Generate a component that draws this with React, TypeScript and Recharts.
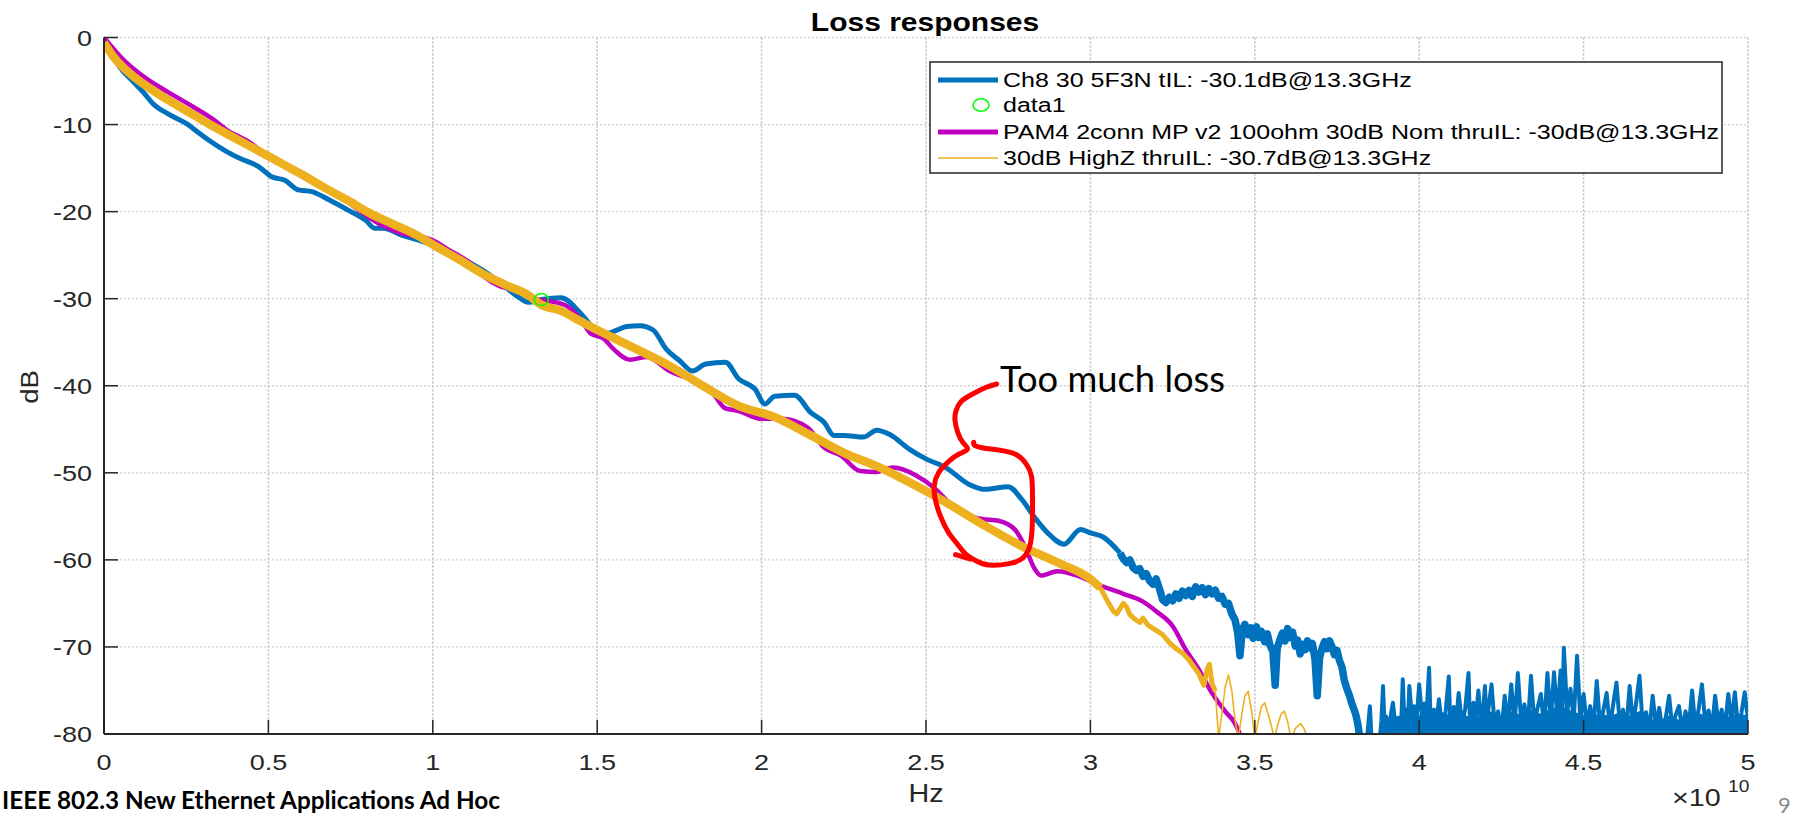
import React from 'react';
import {
  ComposedChart,
  Line,
  Area,
  XAxis,
  YAxis,
  CartesianGrid,
  Scatter,
  ReferenceDot,
} from 'recharts';

// ---------- data (frequency in GHz, loss in dB) ----------
type Pt = [number, number];

const freqTicks = [0, 5, 10, 15, 20, 25, 30, 35, 40, 45, 50];
const dbTicks = [-80, -70, -60, -50, -40, -30, -20, -10, 0];

const legendLabels = [
  'Ch8 30 5F3N tIL: -30.1dB@13.3GHz',
  'data1',
  'PAM4 2conn MP v2 100ohm 30dB Nom thruIL: -30dB@13.3GHz',
  '30dB HighZ thruIL: -30.7dB@13.3GHz',
];

// Ch8 30 5F3N channel insertion loss: smooth band
const ch8Loss: Pt[] = [
  [0, -0.3], [0.2, -1.4], [0.46, -3.3], [0.87, -5.0], [1.2, -6.3], [1.49, -7.6],
  [1.96, -8.8], [2.51, -9.9], [2.9, -11.0], [3.19, -11.8], [3.73, -13.1], [4.14, -13.9],
  [4.69, -14.8], [5.1, -16.0], [5.5, -16.4], [5.91, -17.5], [6.32, -17.7], [6.87, -18.7],
  [7.41, -19.8], [7.96, -21.0], [8.23, -21.9], [8.5, -21.9], [9.05, -22.7], [9.59, -23.3],
  [10.1, -24.0], [10.8, -25.2], [11.5, -26.7], [12.1, -28.3], [12.6, -29.8], [12.9, -30.4],
  [13.3, -30.1], [13.9, -29.9], [14.5, -31.7], [14.9, -33.4], [15.3, -34.0], [15.6, -33.6],
  [15.9, -33.2], [16.3, -33.1], [16.7, -33.6], [17.1, -35.8], [17.5, -37.1], [17.9, -38.3],
  [18.3, -37.5], [18.9, -37.3], [19.3, -39.2], [19.8, -40.4], [20.1, -42.1], [20.4, -41.2],
  [21.0, -41.1], [21.5, -43.1], [21.9, -44.2], [22.2, -45.7], [22.5, -45.7], [23.1, -45.9],
  [23.5, -45.1], [23.9, -45.6], [24.5, -47.3], [25.0, -48.4], [25.6, -49.4], [26.3, -51.3],
  [26.8, -51.9], [27.5, -51.6], [27.9, -53.0], [28.3, -55.1], [28.7, -56.9], [29.2, -58.2],
  [29.7, -56.5], [30.0, -56.9], [30.4, -57.4], [30.9, -59.2],
];

// Ch8: noisy roll-off region
const ch8Rolloff: Pt[] = [
  [30.9, -59.2], [31.0, -59.9], [31.1, -60.3], [31.2, -60.0], [31.3, -60.9], [31.4, -61.2],
  [31.5, -61.0], [31.6, -61.9], [31.7, -61.6], [31.8, -62.4], [31.9, -62.8], [32.0, -62.2],
  [32.1, -63.3], [32.2, -64.6], [32.3, -64.9], [32.4, -64.3], [32.5, -64.7], [32.6, -63.9],
  [32.7, -64.4], [32.8, -63.6], [32.9, -64.1], [33.0, -63.5], [33.1, -64.2], [33.2, -63.1],
  [33.3, -63.7], [33.4, -63.2], [33.5, -64.0], [33.6, -63.3], [33.7, -63.9], [33.8, -63.5],
  [33.9, -64.4], [34.0, -64.2], [34.1, -65.1], [34.2, -65.0], [34.3, -66.2], [34.4, -66.9],
  [34.48, -68.4], [34.55, -71.0], [34.62, -68.0], [34.7, -67.4], [34.8, -68.6], [34.88, -67.8],
  [34.95, -69.0], [35.05, -67.7], [35.12, -68.9], [35.2, -68.2], [35.3, -69.4], [35.38, -68.5],
  [35.46, -69.8], [35.55, -70.5], [35.62, -74.4], [35.68, -70.2], [35.76, -69.2], [35.84, -68.4],
  [35.92, -69.3], [36.0, -67.9], [36.08, -68.9], [36.15, -68.3], [36.23, -69.9], [36.3, -69.2],
  [36.38, -70.8], [36.45, -69.7], [36.53, -70.3], [36.6, -69.3], [36.68, -70.1], [36.75, -69.6],
  [36.83, -71.4], [36.9, -75.6], [36.97, -71.2], [37.05, -70.1], [37.12, -69.4], [37.2, -70.2],
  [37.27, -69.3], [37.35, -70.0], [37.42, -70.9], [37.5, -70.4], [37.57, -71.5], [37.65, -72.3],
  [37.72, -73.8], [37.8, -74.8], [37.88, -75.6], [37.95, -76.5], [38.02, -77.2], [38.08, -77.9],
  [38.14, -79.0], [38.2, -80.6],
];

// Ch8: measurement noise floor spikes
const ch8Floor: Pt[] = [
  [38.2, -80.6], [38.3, -81], [38.4, -80.8], [38.45, -79], [38.5, -76.8], [38.55, -80.5],
  [38.7, -81], [38.8, -80.6], [38.85, -78.5], [38.9, -74.5], [38.95, -79.5], [39.0, -78],
  [39.1, -79.6], [39.15, -77.5], [39.2, -76.4], [39.3, -79.8], [39.35, -78.2], [39.45, -79.2],
  [39.5, -73.7], [39.55, -78.8], [39.6, -77.2], [39.65, -79.5], [39.7, -74.5], [39.8, -79],
  [39.85, -76.8], [39.9, -79.4], [40.0, -74.3], [40.1, -78.6], [40.15, -76.5], [40.2, -79.6],
  [40.3, -72.4], [40.35, -79.2], [40.45, -77.2], [40.5, -79.7], [40.6, -76], [40.7, -79.3],
  [40.8, -77.6], [40.9, -73.4], [40.95, -79.1], [41.05, -76.9], [41.1, -79.5], [41.2, -75.3],
  [41.3, -78.9], [41.4, -77.1], [41.5, -73], [41.55, -79.4], [41.65, -76.4], [41.7, -79.2],
  [41.8, -75], [41.9, -79.6], [42.0, -74.5], [42.05, -78.7], [42.2, -74.3], [42.3, -79.3],
  [42.4, -77.4], [42.5, -79.8], [42.6, -75.6], [42.7, -78.9], [42.8, -74.3], [42.9, -79.1],
  [43.0, -73], [43.1, -78.5], [43.2, -76.6], [43.3, -79.4], [43.4, -73.3], [43.5, -78.8],
  [43.6, -77], [43.7, -75.4], [43.8, -79.2], [43.9, -73], [44.0, -78.6], [44.1, -72.9],
  [44.2, -78.1], [44.3, -72.7], [44.35, -77.9], [44.4, -70.1], [44.5, -77.5], [44.6, -74.8],
  [44.7, -78.4], [44.8, -71], [44.9, -78.3], [45.0, -75.4], [45.1, -79.1], [45.2, -76.8],
  [45.3, -79.5], [45.4, -73.9], [45.5, -79], [45.6, -77.3], [45.7, -75.3], [45.8, -79.3],
  [45.9, -76.6], [46.0, -74.1], [46.1, -78.8], [46.2, -77.2], [46.3, -79.6], [46.4, -74.5],
  [46.5, -78.9], [46.6, -76.4], [46.7, -73.3], [46.8, -79.2], [46.9, -77.5], [47.0, -79.7],
  [47.1, -75.6], [47.2, -79.1], [47.3, -77], [47.4, -79.8], [47.5, -78.1], [47.6, -75.6],
  [47.7, -79.4], [47.8, -77.8], [47.9, -76.8], [48.0, -79.6], [48.1, -77.4], [48.2, -79.2],
  [48.3, -75], [48.4, -79.3], [48.5, -77.1], [48.6, -74.3], [48.7, -78.8], [48.8, -77.3],
  [48.9, -79.5], [49.0, -75.6], [49.1, -78.9], [49.2, -77.2], [49.3, -79.4], [49.4, -75.4],
  [49.5, -78.7], [49.6, -75.2], [49.7, -79.3], [49.8, -77.6], [49.9, -75.2], [50.0, -78.4],
];

// Ch8: dense noise band under the floor spikes (upper envelope)
const ch8FloorBand: Pt[] = [
  [38.85, -80.5], [38.9, -78.6], [39.2, -78.2], [39.5, -77.9], [39.8, -78.4], [40.1, -77.8],
  [40.4, -78.3], [40.7, -77.6], [41.0, -78.1], [41.3, -77.7], [41.6, -78.4], [41.9, -77.9],
  [42.2, -77.5], [42.5, -78.2], [42.8, -77.6], [43.1, -77.9], [43.4, -77.3], [43.7, -77.8],
  [44.0, -77.2], [44.3, -76.9], [44.6, -77.4], [44.9, -77.8], [45.2, -78.3], [45.5, -77.7],
  [45.8, -78.1], [46.1, -77.6], [46.4, -78.0], [46.7, -77.5], [47.0, -78.4], [47.3, -78.6],
  [47.6, -78.0], [47.9, -78.5], [48.2, -77.9], [48.5, -77.7], [48.8, -78.2], [49.1, -77.9],
  [49.4, -78.1], [49.7, -77.8], [50.0, -78.0],
];

// data1 marker on the Ch8 trace at 13.3 GHz
const data1Marker: Pt[] = [[13.3, -30.1]];

// PAM4 2conn MP v2 100ohm nominal thru
const pam4Loss: Pt[] = [
  [0, 0], [0.6, -2.6], [1.28, -4.7], [1.96, -6.3], [2.64, -7.8], [3.32, -9.4],
  [3.73, -10.6], [4.41, -12.0], [4.96, -13.5], [5.64, -14.9], [6.32, -16.5], [7.14, -18.2],
  [7.96, -20.4], [8.23, -21.1], [9.05, -22.5], [10.0, -23.3], [10.4, -24.2], [11.2, -26.1],
  [11.6, -27.6], [12.0, -28.5], [12.5, -29.0], [13.0, -29.9], [14.0, -30.7], [14.5, -32.4],
  [14.8, -34.0], [15.2, -34.6], [15.5, -35.8], [16.0, -37.0], [16.5, -36.7], [17.2, -38.3],
  [17.9, -39.4], [18.5, -40.8], [18.9, -42.6], [19.3, -42.9], [20.0, -43.8], [20.6, -43.8],
  [21.4, -44.8], [21.9, -47.1], [22.4, -48.0], [23.0, -49.8], [23.5, -49.9], [24.0, -49.4],
  [24.7, -50.3], [25.3, -51.9], [25.7, -53.4], [26.3, -54.9], [26.7, -55.3], [27.2, -55.5],
  [27.7, -56.5], [28.0, -58.4], [28.3, -61.0], [28.5, -61.8], [29.0, -61.3], [29.6, -61.8],
  [30.2, -62.8], [31.0, -63.9], [31.6, -64.8], [32.0, -65.9], [32.5, -67.6], [32.9, -70.3],
  [33.3, -72.6], [33.7, -75.3], [34.1, -77.4], [34.4, -78.8], [34.6, -80.5],
];

// 30dB HighZ thru: main band, roll-off and resonant tail
const highZBody: Pt[] = [
  [0, -0.6], [0.33, -2.4], [0.87, -4.4], [1.42, -5.9], [1.96, -7.2], [2.64, -8.7],
  [3.32, -10.2], [4.0, -11.6], [4.69, -13.0], [5.37, -14.4], [6.05, -15.8], [6.73, -17.3],
  [7.41, -18.7], [8.09, -20.2], [8.77, -21.4], [9.46, -22.6], [10.1, -24.0], [10.8, -25.5],
  [11.5, -27.1], [12.2, -28.4], [12.9, -29.6], [13.3, -30.7], [13.9, -31.4], [14.5, -32.6],
  [14.9, -33.4], [15.6, -34.7], [16.3, -36.0], [17.0, -37.3], [17.6, -38.6], [18.3, -40.2],
  [19.3, -42.3], [20.4, -43.6], [21.5, -45.7], [22.5, -47.7], [23.6, -49.4], [24.7, -51.5],
  [25.7, -53.6], [26.8, -56.1], [27.9, -58.4], [29.0, -60.3], [30.0, -62.2], [30.3, -63.2],
];
const highZRolloff: Pt[] = [
  [30.3, -63.2], [30.5, -64.6], [30.7, -65.9], [30.8, -66.2], [30.9, -65.6], [31.0, -65.0],
  [31.1, -65.4], [31.2, -66.3], [31.35, -66.8], [31.5, -67.2], [31.6, -66.7], [31.75, -67.5],
  [32.0, -68.1], [32.2, -68.6], [32.4, -69.5], [32.6, -70.2], [32.8, -70.7], [33.0, -71.5],
  [33.15, -72.3], [33.3, -73.1], [33.45, -74.4], [33.55, -72.6], [33.62, -72.0], [33.7, -74.2],
  [33.8, -75.1],
];
const highZTail: Pt[] = [
  [33.8, -75.1], [33.9, -80.5], [34.0, -77.6], [34.1, -74.6], [34.2, -73.2], [34.3, -75.0],
  [34.4, -78.4], [34.5, -80.5], [34.6, -77.9], [34.7, -75.6], [34.8, -75.1], [34.9, -77.3],
  [35.0, -80.5], [35.1, -78.6], [35.2, -76.9], [35.3, -76.4], [35.45, -78.3], [35.6, -80.5],
  [35.7, -78.9], [35.8, -77.7], [35.9, -77.4], [36.0, -78.6], [36.1, -80.5], [36.25, -79.3],
  [36.4, -78.8], [36.5, -79.4], [36.6, -80.5],
];

// hand-drawn "too much loss" callout, in chart coordinates
const calloutLoop: Pt[] = [
  [27.15, -39.8], [26.82, -40.2], [26.39, -41.0], [26.07, -41.8], [25.92, -42.8], [25.88, -43.9],
  [25.96, -45.3], [26.12, -46.5], [26.26, -47.3], [25.98, -47.9], [25.66, -48.8], [25.38, -50.0],
  [25.25, -51.5], [25.28, -53.0], [25.43, -54.9], [25.69, -56.9], [25.96, -58.2], [26.2, -59.3],
  [26.52, -60.1], [26.92, -60.6], [27.56, -60.4], [27.94, -59.8], [28.15, -58.5], [28.23, -56.2],
  [28.24, -53.0], [28.21, -50.4], [28.05, -49.0], [27.74, -47.9], [27.25, -47.4], [26.82, -47.2],
  [26.5, -46.9], [26.45, -46.5],
];
const calloutFlick: Pt[] = [[25.9, -59.4], [26.35, -59.9]];
const calloutText = 'Too much loss';
const calloutAnchor: Pt = [27.25, -40.7];

const rows = (pts: Pt[]) => pts.map(([f, v]) => ({ f, v }));

// ---------- styling ----------
const W = 1803;
const H = 817;
const FONT = '"Liberation Sans", Arial, Helvetica, sans-serif';
const SLIDE_FONT = 'Lato, "Open Sans", sans-serif';
const INK = '#262626';
const STRETCH = 1.2;
const TICK_LEN = 14;
const TICK_FS = 22.5;

const C_CH8 = '#0072BD';
const C_PAM4 = '#C000C0';
const C_HIGHZ = '#EDB120';
const C_DATA1 = '#00FF00';
const C_RED = '#FF0000';

const fmtFreq = (v: number) => String(v / 10);

function BottomTick(props: any) {
  const { x, y, payload } = props;
  return (
    <g>
      <line x1={x} x2={x} y1={y} y2={y - TICK_LEN} stroke={INK} strokeWidth={1.5} />
      <text
        transform={`translate(${x},${y + 36}) scale(${STRETCH},1)`}
        textAnchor="middle"
        fontFamily={FONT}
        fontSize={TICK_FS}
        fill={INK}
      >
        {fmtFreq(payload.value)}
      </text>
    </g>
  );
}

function TopTick(props: any) {
  const { x, y } = props;
  return <line x1={x} x2={x} y1={y} y2={y + TICK_LEN} stroke={INK} strokeWidth={1.5} />;
}

function LeftTick(props: any) {
  const { x, y, payload } = props;
  return (
    <g>
      <line x1={x} x2={x + TICK_LEN} y1={y} y2={y} stroke={INK} strokeWidth={1.5} />
      <text
        transform={`translate(${x - 12},${y + 8}) scale(${STRETCH},1)`}
        textAnchor="end"
        fontFamily={FONT}
        fontSize={TICK_FS}
        fill={INK}
      >
        {String(payload.value)}
      </text>
    </g>
  );
}

function RightTick(props: any) {
  const { x, y } = props;
  return <line x1={x} x2={x - TICK_LEN} y1={y} y2={y} stroke={INK} strokeWidth={1.5} />;
}

const axisLine = { stroke: INK, strokeWidth: 2 };

function Legend() {
  const left = 930;
  const top = 62;
  const rowsY = [80, 105, 132, 158];
  const sx1 = 938;
  const sx2 = 998;
  const tx = 1003;
  return (
    <g>
      <rect x={left} y={top} width={792} height={111} fill="#ffffff" stroke={INK} strokeWidth={1.5} />
      <line x1={sx1} x2={sx2} y1={rowsY[0]} y2={rowsY[0]} stroke={C_CH8} strokeWidth={5} />
      <ellipse cx={981} cy={rowsY[1]} rx={8} ry={6.3} fill="none" stroke={C_DATA1} strokeWidth={1.5} />
      <line x1={sx1} x2={sx2} y1={rowsY[2]} y2={rowsY[2]} stroke={C_PAM4} strokeWidth={5} />
      <line x1={sx1} x2={sx2} y1={rowsY[3]} y2={rowsY[3]} stroke={C_HIGHZ} strokeWidth={1.6} />
      {legendLabels.map((t, i) => (
        <text
          key={t}
          transform={`translate(${tx},${rowsY[i] + 7}) scale(1.25,1)`}
          fontFamily={FONT}
          fontSize={20}
          fill="#000000"
        >
          {t}
        </text>
      ))}
    </g>
  );
}

function Overlay() {
  return (
    <svg
      width={W}
      height={H}
      style={{ position: 'absolute', left: 0, top: 0, pointerEvents: 'none' }}
    >
      <text
        transform={`translate(925,31) scale(1.2,1)`}
        textAnchor="middle"
        fontFamily={FONT}
        fontWeight="bold"
        fontSize={25}
        fill="#000000"
      >
        Loss responses
      </text>
      <text
        transform="translate(38,387) rotate(-90) scale(1.15,1)"
        textAnchor="middle"
        fontFamily={FONT}
        fontSize={24}
        fill={INK}
      >
        dB
      </text>
      <text
        transform="translate(926,802) scale(1.15,1)"
        textAnchor="middle"
        fontFamily={FONT}
        fontSize={25}
        fill={INK}
      >
        Hz
      </text>
      <text transform="translate(1672,806) scale(1.25,1)" fontFamily={FONT} fontSize={23} fill={INK}>
        ×10
      </text>
      <text transform="translate(1728,792) scale(1.2,1)" fontFamily={FONT} fontSize={16} fill={INK}>
        10
      </text>
      <Legend />
      <text
        x={2}
        y={809}
        fontFamily={SLIDE_FONT}
        fontWeight={700}
        fontSize={25}
        textLength={498}
        lengthAdjust="spacingAndGlyphs"
        fill="#000000"
      >
        IEEE 802.3 New Ethernet Applications Ad Hoc
      </text>
      <text x={1778} y={813} fontFamily={SLIDE_FONT} fontSize={22} fill="#8a8a8a">
        9
      </text>
    </svg>
  );
}

const lineBase = {
  xAxisId: 'b',
  yAxisId: 'l',
  dataKey: 'v',
  dot: false,
  activeDot: false,
  isAnimationActive: false,
  strokeLinejoin: 'round' as const,
};

export default function App() {
  const ids = { xAxisId: 'b', yAxisId: 'l' };
  return (
    <div style={{ position: 'absolute', left: 0, top: 0, width: W, height: H, background: '#ffffff' }}>
      <ComposedChart width={W} height={H} margin={{ top: 37.5, right: 55, bottom: 0, left: 0 }}>
        <CartesianGrid {...ids} horizontal={false} stroke="#bdbdbd" strokeDasharray="2 2" strokeWidth={1.6} />
        <CartesianGrid {...ids} vertical={false} stroke="#cfcfcf" strokeDasharray="2 2" strokeWidth={1.3} />
        <XAxis
          xAxisId="b"
          type="number"
          dataKey="f"
          domain={[0, 50]}
          ticks={freqTicks}
          interval={0}
          allowDataOverflow
          height={83}
          tickSize={0}
          tickMargin={0}
          tickLine={false}
          tick={<BottomTick />}
          axisLine={axisLine}
        />
        <XAxis
          xAxisId="t"
          orientation="top"
          type="number"
          dataKey="f"
          domain={[0, 50]}
          ticks={freqTicks}
          interval={0}
          allowDataOverflow
          height={0}
          tickSize={0}
          tickMargin={0}
          tickLine={false}
          tick={<TopTick />}
          axisLine={axisLine}
        />
        <YAxis
          yAxisId="l"
          type="number"
          domain={[-80, 0]}
          ticks={dbTicks}
          interval={0}
          allowDataOverflow
          width={104}
          tickSize={0}
          tickMargin={0}
          tickLine={false}
          tick={<LeftTick />}
          axisLine={axisLine}
        />
        <YAxis
          yAxisId="r"
          orientation="right"
          type="number"
          domain={[-80, 0]}
          ticks={dbTicks}
          interval={0}
          allowDataOverflow
          width={0}
          tickSize={0}
          tickMargin={0}
          tickLine={false}
          tick={<RightTick />}
          axisLine={axisLine}
        />

        {/* Ch8 trace */}
        <Line {...lineBase} data={rows(ch8Loss)} type="monotone" stroke={C_CH8} strokeWidth={5} />
        <Line {...lineBase} data={rows(ch8Rolloff)} type="linear" stroke={C_CH8} strokeWidth={7.5} />
        <Area
          {...ids}
          data={rows(ch8FloorBand)}
          dataKey="v"
          type="linear"
          baseValue={-80}
          stroke={C_CH8}
          strokeWidth={2}
          fill={C_CH8}
          fillOpacity={1}
          dot={false}
          activeDot={false}
          isAnimationActive={false}
        />
        <Line {...lineBase} data={rows(ch8Floor)} type="linear" stroke={C_CH8} strokeWidth={4} />

        <Scatter
          {...ids}
          data={rows(data1Marker)}
          dataKey="v"
          isAnimationActive={false}
          shape={(p: any) => (
            <ellipse cx={p.cx} cy={p.cy} rx={7} ry={6} fill="none" stroke={C_DATA1} strokeWidth={1.5} />
          )}
        />

        {/* PAM4 nominal thru */}
        <Line {...lineBase} data={rows(pam4Loss)} type="monotone" stroke={C_PAM4} strokeWidth={4.5} />

        {/* HighZ thru */}
        <Line {...lineBase} data={rows(highZBody)} type="monotone" stroke={C_HIGHZ} strokeWidth={8.5} />
        <Line {...lineBase} data={rows(highZRolloff)} type="linear" stroke={C_HIGHZ} strokeWidth={5} />
        <Line {...lineBase} data={rows(highZTail)} type="linear" stroke={C_HIGHZ} strokeWidth={1.6} />

        {/* callout */}
        <Line
          {...lineBase}
          data={rows(calloutLoop)}
          type="natural"
          stroke={C_RED}
          strokeWidth={5}
          strokeLinecap="round"
        />
        <Line
          {...lineBase}
          data={rows(calloutFlick)}
          type="linear"
          stroke={C_RED}
          strokeWidth={5}
          strokeLinecap="round"
        />
        <ReferenceDot
          {...ids}
          x={calloutAnchor[0]}
          y={calloutAnchor[1]}
          r={0}
          shape={(p: any) => (
            <text
              x={p.cx}
              y={p.cy}
              fontFamily={SLIDE_FONT}
              fontSize={36}
              textLength={225}
              lengthAdjust="spacingAndGlyphs"
              fill="#000000"
            >
              {calloutText}
            </text>
          )}
        />
      </ComposedChart>
      <Overlay />
    </div>
  );
}
